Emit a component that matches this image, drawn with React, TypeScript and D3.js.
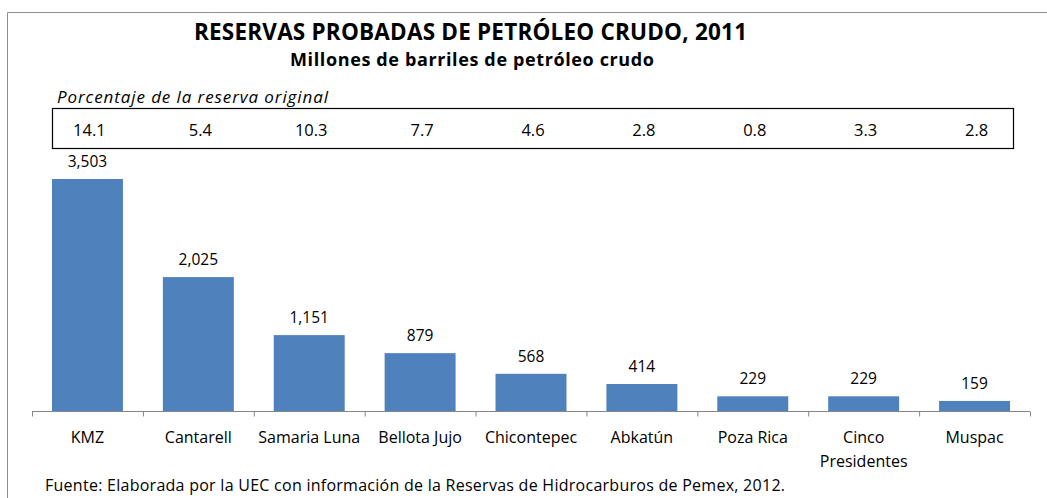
import React from "react";
import * as d3 from "d3";

const categories = ["KMZ", "Cantarell", "Samaria Luna", "Bellota Jujo", "Chicontepec", "Abkatún", "Poza Rica", "Cinco Presidentes", "Muspac"];
const categoryLines = [["KMZ"], ["Cantarell"], ["Samaria Luna"], ["Bellota Jujo"], ["Chicontepec"], ["Abkatún"], ["Poza Rica"], ["Cinco", "Presidentes"], ["Muspac"]];
const reserves = [3503, 2025, 1151, 879, 568, 414, 229, 229, 159];
const percentOriginal = ["14.1", "5.4", "10.3", "7.7", "4.6", "2.8", "0.8", "3.3", "2.8"];

const title = "RESERVAS PROBADAS DE PETRÓLEO CRUDO, 2011";
const subtitle = "Millones de barriles de petróleo crudo";
const boxLabel = "Porcentaje de la reserva original";
const source = "Fuente: Elaborada por la UEC con información de la Reservas de Hidrocarburos de Pemex, 2012.";

const W = 1047;
const H = 498;
const FONT = "'Open Sans', sans-serif";

export default function App() {
  const x = d3.scaleBand<string>().domain(categories).range([32, 1030]).padding(0);
  const y = d3.scaleLinear().domain([0, 4000]).range([411.5, 146]);
  const bw = x.bandwidth() * 0.64;
  const fmt = d3.format(",");
  const ticks = [...categories.map((c) => x(c) as number), 1030];

  return (
    <svg width={W} height={H} style={{ position: "absolute", left: 0, top: 0, background: "#fff" }}>
      <rect x={0} y={0} width={W} height={H} fill="#fff" />
      <line x1={7.5} y1={12.5} x2={W} y2={12.5} stroke="#8c8c8c" strokeWidth={1} />
      <line x1={7.5} y1={12.5} x2={7.5} y2={H} stroke="#8c8c8c" strokeWidth={1} />

      <text x={194} y={40} fontFamily={FONT} fontWeight="bold" fontSize={22.5} textLength={553} lengthAdjust="spacing" fill="#000">{title}</text>
      <text x={290} y={66} fontFamily={FONT} fontWeight="bold" fontSize={18} textLength={364} lengthAdjust="spacing" fill="#000">{subtitle}</text>
      <text x={57} y={102.5} fontFamily={FONT} fontStyle="italic" fontSize={17} textLength={271} lengthAdjust="spacing" fill="#000">{boxLabel}</text>

      <rect x={52.5} y={108.5} width={961} height={40} fill="none" stroke="#000" strokeWidth={1.2} />
      {categories.map((c, i) => (
        <text key={"p" + c} x={(x(c) as number) + x.bandwidth() / 2 + 2} y={135.5} textAnchor="middle" fontFamily={FONT} fontSize={16.5} fill="#000">
          {percentOriginal[i]}
        </text>
      ))}

      {categories.map((c, i) => {
        const cx = (x(c) as number) + x.bandwidth() / 2;
        return (
          <g key={c}>
            <rect x={cx - bw / 2} y={y(reserves[i])} width={bw} height={y(0) - y(reserves[i])} fill="#4F81BD" />
            <text x={cx} y={y(reserves[i]) - 12} textAnchor="middle" fontFamily={FONT} fontSize={15.5} fill="#000">
              {fmt(reserves[i])}
            </text>
          </g>
        );
      })}

      <line x1={32} y1={411.5} x2={1030} y2={411.5} stroke="#868686" strokeWidth={1} />
      {ticks.map((t, i) => (
        <line key={"t" + i} x1={t + 0.5} y1={411.5} x2={t + 0.5} y2={416.5} stroke="#868686" strokeWidth={1} />
      ))}

      {categories.map((c, i) => (
        <text key={"l" + c} x={(x(c) as number) + x.bandwidth() / 2} y={443} textAnchor="middle" fontFamily={FONT} fontSize={16} fill="#000">
          {categoryLines[i].map((ln, j) => (
            <tspan key={j} x={(x(c) as number) + x.bandwidth() / 2} dy={j === 0 ? 0 : 24}>{ln}</tspan>
          ))}
        </text>
      ))}

      <text x={45} y={491} fontFamily={FONT} fontSize={16} textLength={740} lengthAdjust="spacing" fill="#000">{source}</text>
    </svg>
  );
}
